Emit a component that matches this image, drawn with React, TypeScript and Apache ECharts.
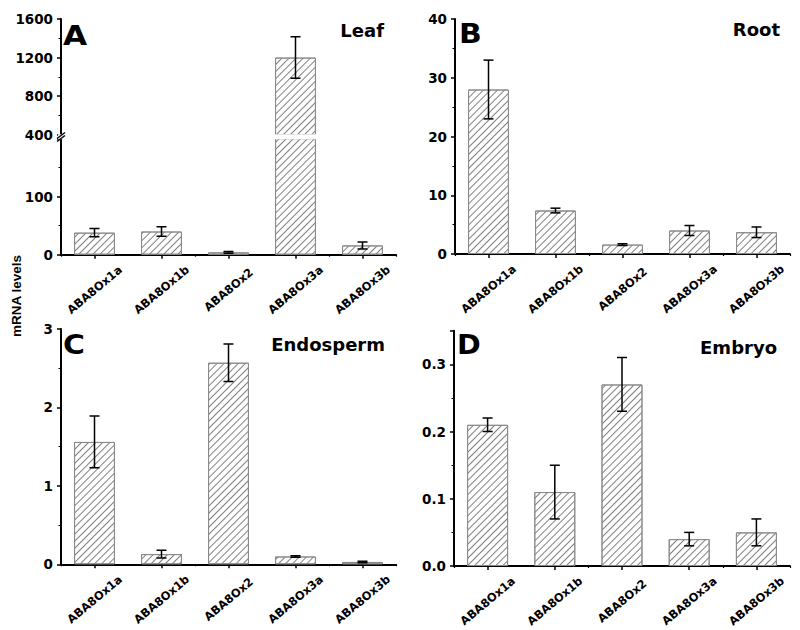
import React, { useEffect, useRef } from 'react';
import * as echarts from 'echarts';

const categories = ['ABA8Ox1a', 'ABA8Ox1b', 'ABA8Ox2', 'ABA8Ox3a', 'ABA8Ox3b'];

const leafMean = [38, 40, 4, 1200, 16];
const leafErr = [7, 8, 1.5, 215, 6];
const rootMean = [28, 7.4, 1.6, 4.0, 3.7];
const rootErr = [5, 0.4, 0.15, 0.85, 0.9];
const endoMean = [1.56, 0.13, 2.57, 0.1, 0.03];
const endoErr = [0.33, 0.05, 0.24, 0.01, 0.01];
const embryoMean = [0.21, 0.11, 0.27, 0.04, 0.05];
const embryoErr = [0.01, 0.04, 0.04, 0.01, 0.02];

const panelLetters = ['A', 'B', 'C', 'D'];
const panelTitles = ['Leaf', 'Root', 'Endosperm', 'Embryo'];
const yAxisTitle = 'mRNA levels';

const FONT = 'DejaVu Sans';

const hatch: any = {
  symbol: 'rect',
  symbolSize: 1,
  color: '#808080',
  dashArrayX: [1, 0],
  dashArrayY: [1, 4],
  rotation: -Math.PI / 4,
};

function xAxes(gridIndex: number, showAxis: boolean) {
  const main = {
    type: 'category',
    gridIndex,
    data: categories,
    position: 'bottom',
    show: showAxis,
    axisLine: { show: true, onZero: false, lineStyle: { color: '#000', width: 2 } },
    axisTick: { show: true, alignWithLabel: true, length: 4, lineStyle: { color: '#000', width: 1.5 } },
    axisLabel: {
      show: true,
      interval: 0,
      rotate: 40,
      align: 'center',
      verticalAlign: 'middle',
      margin: 35,
      fontFamily: FONT,
      fontWeight: 'bold',
      fontSize: 11.5,
      color: '#000',
    },
    splitLine: { show: false },
  };
  const minor = {
    type: 'category',
    gridIndex,
    data: categories,
    position: 'bottom',
    show: showAxis,
    axisLine: { show: false },
    axisTick: { show: true, alignWithLabel: false, length: 2, lineStyle: { color: '#000', width: 1.2 } },
    axisLabel: { show: false },
    splitLine: { show: false },
  };
  return [main, minor];
}

function yAxis(gridIndex: number, min: number, max: number, interval: number, showMax: boolean, fmt: (v: number) => string) {
  return {
    type: 'value',
    gridIndex,
    min,
    max,
    interval,
    axisLine: { show: true, lineStyle: { color: '#000', width: 2 } },
    axisTick: { show: true, length: 4, lineStyle: { color: '#000', width: 1.5 } },
    minorTick: { show: true, splitNumber: 2, length: 2.5, lineStyle: { color: '#000', width: 1 } },
    splitLine: { show: false },
    minorSplitLine: { show: false },
    axisLabel: {
      showMaxLabel: showMax,
      margin: 8,
      fontFamily: FONT,
      fontWeight: 'bold',
      fontSize: 13.5,
      color: '#000',
      formatter: fmt,
    },
  };
}

const plain = (v: number) => String(v);
const oneDec = (v: number) => v.toFixed(1);

function barSeries(axisIndex: number, values: number[]) {
  return {
    type: 'bar',
    xAxisIndex: axisIndex,
    yAxisIndex: axisIndex / 2,
    data: values,
    barWidth: '61%',
    clip: true,
    itemStyle: { color: '#ffffff', borderColor: '#8a8a8a', borderWidth: 1, decal: hatch },
    emphasis: { disabled: true },
  };
}

function errSeries(axisIndex: number, means: number[], errs: number[], lo: number, hi: number) {
  return {
    type: 'custom',
    xAxisIndex: axisIndex,
    yAxisIndex: axisIndex / 2,
    data: means.map((m, i) => [i, m, errs[i]]),
    encode: { x: 0, y: 1 },
    clip: true,
    z: 5,
    renderItem: (params: any, api: any) => {
      const i = api.value(0);
      const m = api.value(1);
      const e = api.value(2);
      if (m < lo || m > hi) return null;
      const top = api.coord([i, m + e]);
      const bot = api.coord([i, m - e]);
      const half = 5;
      const st = { stroke: '#000', lineWidth: 1.5 };
      return {
        type: 'group',
        children: [
          { type: 'line', shape: { x1: top[0], y1: top[1], x2: bot[0], y2: bot[1] }, style: st },
          { type: 'line', shape: { x1: top[0] - half, y1: top[1], x2: top[0] + half, y2: top[1] }, style: st },
          { type: 'line', shape: { x1: bot[0] - half, y1: bot[1], x2: bot[0] + half, y2: bot[1] }, style: st },
        ],
      };
    },
  };
}

export default function App() {
  const ref = useRef<HTMLDivElement>(null);
  useEffect(() => {
    if (!ref.current) return;
    const chart = echarts.init(ref.current, undefined, { renderer: 'svg' });
    const grids = [
      { left: 61, top: 19, width: 335, height: 115.7 },
      { left: 61, top: 138.7, width: 335, height: 116 },
      { left: 455, top: 19, width: 335, height: 235 },
      { left: 61, top: 329, width: 335, height: 235.3 },
      { left: 454, top: 330.7, width: 336, height: 235.3 },
    ];
    const titleStyle = { fontFamily: FONT, fontWeight: 'bold', fontSize: 18, fill: '#000' };
    const letterStyle = { fontFamily: FONT, fontWeight: 'bold', fontSize: 26, fill: '#000' };
    const option: any = {
      animation: false,
      backgroundColor: '#ffffff',
      grid: grids.map((g) => ({ ...g, containLabel: false })),
      xAxis: [
        ...xAxes(0, false),
        ...xAxes(1, true),
        ...xAxes(2, true),
        ...xAxes(3, true),
        ...xAxes(4, true),
      ],
      yAxis: [
        yAxis(0, 400, 1600, 400, true, plain),
        yAxis(1, 0, 200, 100, false, plain),
        yAxis(2, 0, 40, 10, true, plain),
        yAxis(3, 0, 3, 1, true, plain),
        yAxis(4, 0, 0.35, 0.1, false, oneDec),
      ],
      series: [
        barSeries(0, leafMean),
        errSeries(0, leafMean, leafErr, 400, 1600),
        barSeries(2, leafMean),
        errSeries(2, leafMean, leafErr, 0, 200),
        barSeries(4, rootMean),
        errSeries(4, rootMean, rootErr, 0, 40),
        barSeries(6, endoMean),
        errSeries(6, endoMean, endoErr, 0, 3),
        barSeries(8, embryoMean),
        errSeries(8, embryoMean, embryoErr, 0, 0.35),
      ],
      graphic: [
        { type: 'text', x: 63, y: 36, scaleX: 1.2, style: { ...letterStyle, text: panelLetters[0], verticalAlign: 'middle', align: 'left' } },
        { type: 'text', x: 459, y: 34, scaleX: 1.15, style: { ...letterStyle, text: panelLetters[1], verticalAlign: 'middle', align: 'left' } },
        { type: 'text', x: 63, y: 345, scaleX: 1.15, style: { ...letterStyle, text: panelLetters[2], verticalAlign: 'middle', align: 'left' } },
        { type: 'text', x: 457, y: 345, scaleX: 1.1, style: { ...letterStyle, text: panelLetters[3], verticalAlign: 'middle', align: 'left' } },
        { type: 'text', x: 384, y: 30, style: { ...titleStyle, text: panelTitles[0], align: 'right', verticalAlign: 'middle' } },
        { type: 'text', x: 780, y: 29, style: { ...titleStyle, text: panelTitles[1], align: 'right', verticalAlign: 'middle' } },
        { type: 'text', x: 385, y: 344, style: { ...titleStyle, text: panelTitles[2], align: 'right', verticalAlign: 'middle' } },
        { type: 'text', x: 777, y: 347, style: { ...titleStyle, text: panelTitles[3], align: 'right', verticalAlign: 'middle' } },
        {
          type: 'text',
          x: 16,
          y: 296,
          rotation: Math.PI / 2,
          style: { text: yAxisTitle, fontFamily: 'Liberation Sans', fontWeight: 'bold', fontSize: 13.5, fill: '#000', align: 'center', verticalAlign: 'middle' },
        },
        { type: 'rect', shape: { x: 58, y: 134.2, width: 340, height: 5 }, style: { fill: '#fff' }, z: 100 },
        { type: 'line', shape: { x1: 57, y1: 138.5, x2: 65, y2: 132.5 }, style: { stroke: '#000', lineWidth: 1.5 }, z: 101 },
        { type: 'line', shape: { x1: 57, y1: 141.5, x2: 65, y2: 135.5 }, style: { stroke: '#000', lineWidth: 1.5 }, z: 101 },
      ],
    };
    chart.setOption(option);
    return () => chart.dispose();
  }, []);
  return <div ref={ref} style={{ position: 'absolute', left: 0, top: 0, width: 800, height: 630 }} />;
}
